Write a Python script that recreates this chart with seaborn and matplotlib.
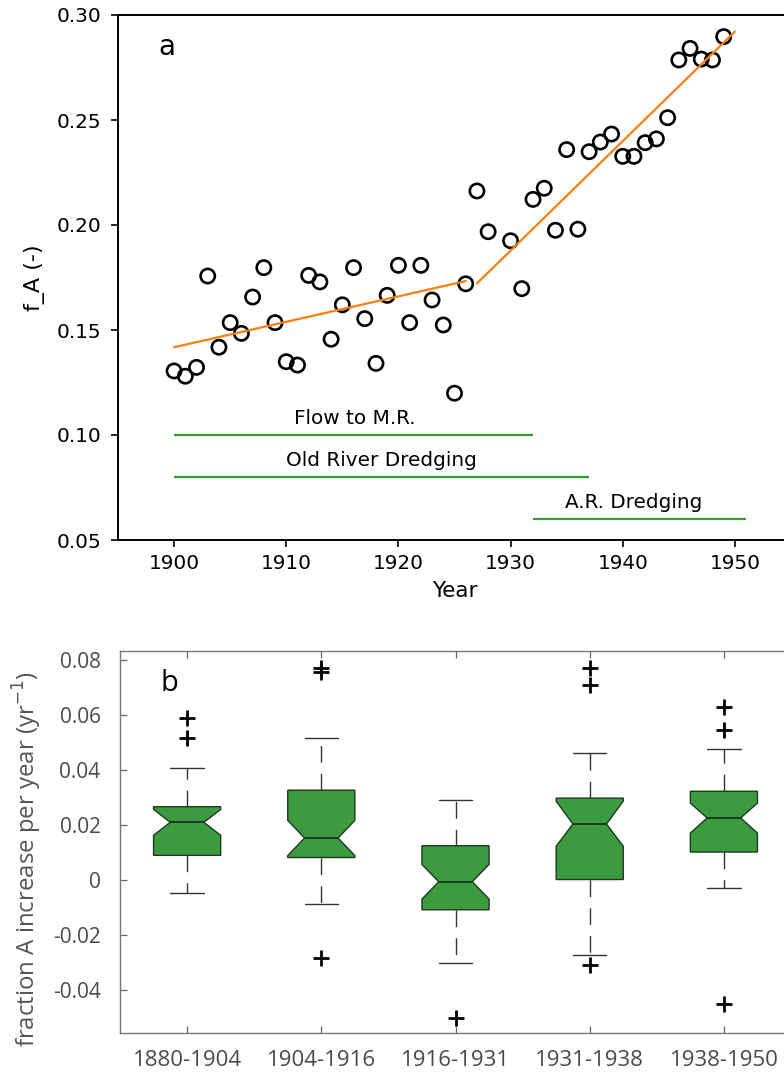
import numpy as np
import pandas as pd
import matplotlib
matplotlib.use("Agg")
import matplotlib.pyplot as plt
import seaborn as sns

# ---------------- data: panel a ----------------
years = [1900, 1901, 1902, 1903, 1904, 1905, 1906, 1907, 1908, 1909,
         1910, 1911, 1912, 1913, 1914, 1915, 1916, 1917, 1918, 1919,
         1920, 1921, 1922, 1923, 1924, 1925, 1926, 1927, 1928, 1930,
         1931, 1932, 1933, 1934, 1935, 1936, 1937, 1938, 1939, 1940,
         1941, 1942, 1943, 1944, 1945, 1946, 1947, 1948, 1949]
fA = [0.1305, 0.1280, 0.1322, 0.1757, 0.1418, 0.1535, 0.1484, 0.1657, 0.1797, 0.1535,
      0.1349, 0.1333, 0.1760, 0.1729, 0.1456, 0.1620, 0.1797, 0.1554, 0.1341, 0.1665,
      0.1808, 0.1535, 0.1808, 0.1643, 0.1524, 0.1199, 0.1720, 0.2162, 0.1968, 0.1925,
      0.1697, 0.2122, 0.2175, 0.1975, 0.2359, 0.1980, 0.2349, 0.2395, 0.2433, 0.2327,
      0.2327, 0.2392, 0.2410, 0.2511, 0.2786, 0.2841, 0.2790, 0.2786, 0.2897]

fit1_years = [1900, 1926]
fit1_vals = [0.1418, 0.1733]
fit2_years = [1927, 1950]
fit2_vals = [0.1722, 0.2921]

event_labels = ["Flow to M.R.", "Old River Dredging", "A.R. Dredging"]
event_start = [1900, 1900, 1932]
event_end = [1932, 1937, 1951]
event_level = [0.10, 0.08, 0.06]
event_text_x = [1916.1, 1918.5, 1941.0]

# ---------------- data: panel b ----------------
periods = ["1880-1904", "1904-1916", "1916-1931", "1931-1938", "1938-1950"]
q1 = [0.0091, 0.0083, -0.0107, 0.0003, 0.0103]
med = [0.0211, 0.0154, -0.0005, 0.0205, 0.0227]
q3 = [0.0268, 0.0328, 0.0126, 0.0299, 0.0324]
cilo = [0.0164, 0.0090, -0.0068, 0.0124, 0.0172]
cihi = [0.0258, 0.0218, 0.0058, 0.0288, 0.0281]
whislo = [-0.0047, -0.0085, -0.0302, -0.0272, -0.0027]
whishi = [0.0407, 0.0517, 0.0291, 0.0462, 0.0479]
fliers = [[0.0589, 0.0517], [0.0771, 0.0756, -0.0281], [-0.0499],
          [0.0772, 0.0709, -0.0309], [0.0630, 0.0548, -0.0449]]

# ---------------- figure ----------------
sns.set_style("ticks")
plt.rcParams['font.family'] = ['DejaVu Sans']
plt.rcParams['text.color'] = 'black'
plt.rcParams['axes.labelcolor'] = 'black'
plt.rcParams['xtick.color'] = 'black'
plt.rcParams['ytick.color'] = 'black'

fig = plt.figure(figsize=(7.84, 10.74), dpi=100)
W, H = 784.0, 1074.0

def rect(l, t, r, b):
    return [l / W, 1 - b / H, (r - l) / W, (b - t) / H]

ax1 = fig.add_axes(rect(118, 15, 791, 540))
ax2 = fig.add_axes(rect(120, 651, 791, 1033))

# ---- panel a ----
df = pd.DataFrame({"Year": years, "fA": fA})
sns.scatterplot(data=df, x="Year", y="fA", ax=ax1, s=105, marker="o",
                facecolor="none", edgecolor="black", linewidth=1.9, zorder=3)
sns.lineplot(x=fit1_years, y=fit1_vals, ax=ax1, color="#ff7f0e", linewidth=1.6, zorder=4)
sns.lineplot(x=fit2_years, y=fit2_vals, ax=ax1, color="#ff7f0e", linewidth=1.6, zorder=4)
for lab, xs, xe, lev, tx in zip(event_labels, event_start, event_end, event_level, event_text_x):
    ax1.hlines(lev, xs, xe, color="#2ca02c", linewidth=1.6)
    ax1.text(tx, lev + 0.0035, lab, ha="center", va="bottom", fontsize=14.4)

ax1.set_xlim(1895, 1955)
ax1.set_ylim(0.05, 0.30)
ax1.set_xticks([1900, 1910, 1920, 1930, 1940, 1950])
ax1.set_yticks([0.05, 0.10, 0.15, 0.20, 0.25, 0.30])
ax1.set_yticklabels(["0.05", "0.10", "0.15", "0.20", "0.25", "0.30"])
ax1.tick_params(labelsize=14.4, length=5, width=1.2, pad=5, colors="black")
ax1.tick_params(axis="y", pad=7)
for s in ax1.spines.values():
    s.set_linewidth(1.4)
    s.set_color("black")
ax1.set_xlabel("Year", fontsize=15.5, labelpad=6)
ax1.set_ylabel("f_A (-)", fontsize=16, labelpad=8)
ax1.text(1899.4, 0.2848, "a", fontsize=20, ha="center", va="center")

# ---- panel b ----
stats = []
for i in range(len(periods)):
    stats.append(dict(label=periods[i], q1=q1[i], med=med[i], q3=q3[i],
                      cilo=cilo[i], cihi=cihi[i], whislo=whislo[i],
                      whishi=whishi[i], fliers=fliers[i]))
positions = list(range(1, len(periods) + 1))
ax2.bxp(stats, positions=positions, widths=0.5, shownotches=True, patch_artist=True,
        boxprops=dict(facecolor="#3c9b41", edgecolor="#1c3a1c", linewidth=1.0),
        medianprops=dict(color="#1c3a1c", linewidth=1.4),
        whiskerprops=dict(color="#333333", linewidth=1.0, linestyle=(0, (12, 8))),
        capprops=dict(color="#333333", linewidth=1.0),
        flierprops=dict(marker="+", markeredgecolor="black", markersize=11,
                        markeredgewidth=2.0, linestyle="none"))

bfont = "Open Sans"
ax2.set_xlim(0.5, 5.5)
ax2.set_ylim(-0.0555, 0.0834)
ax2.set_xticks(positions)
ax2.set_xticklabels(periods, family=bfont, fontsize=16, color="#4a4a4a")
yt = [-0.04, -0.02, 0, 0.02, 0.04, 0.06, 0.08]
ax2.set_yticks(yt)
ax2.set_yticklabels(["-0.04", "-0.02", "0", "0.02", "0.04", "0.06", "0.08"],
                    family=bfont, fontsize=15, color="#4a4a4a")
ax2.tick_params(direction="in", top=True, right=True, length=5, width=0.9,
                color="#666666")
ax2.tick_params(axis="x", pad=12)
ax2.tick_params(axis="y", pad=14)
for s in ax2.spines.values():
    s.set_visible(True)
    s.set_linewidth(1.0)
    s.set_color("#777777")
ax2.set_ylabel("fraction A increase per year (yr$^{-1}$)", family=bfont,
               fontsize=17.3, color="#555555")
ax2.yaxis.set_label_coords(-0.114, 0.455)
ax2.text(0.87, 0.0716, "b", family=bfont, fontsize=21, ha="center", va="center",
         color="black")

fig.savefig("out.png", dpi=100)
